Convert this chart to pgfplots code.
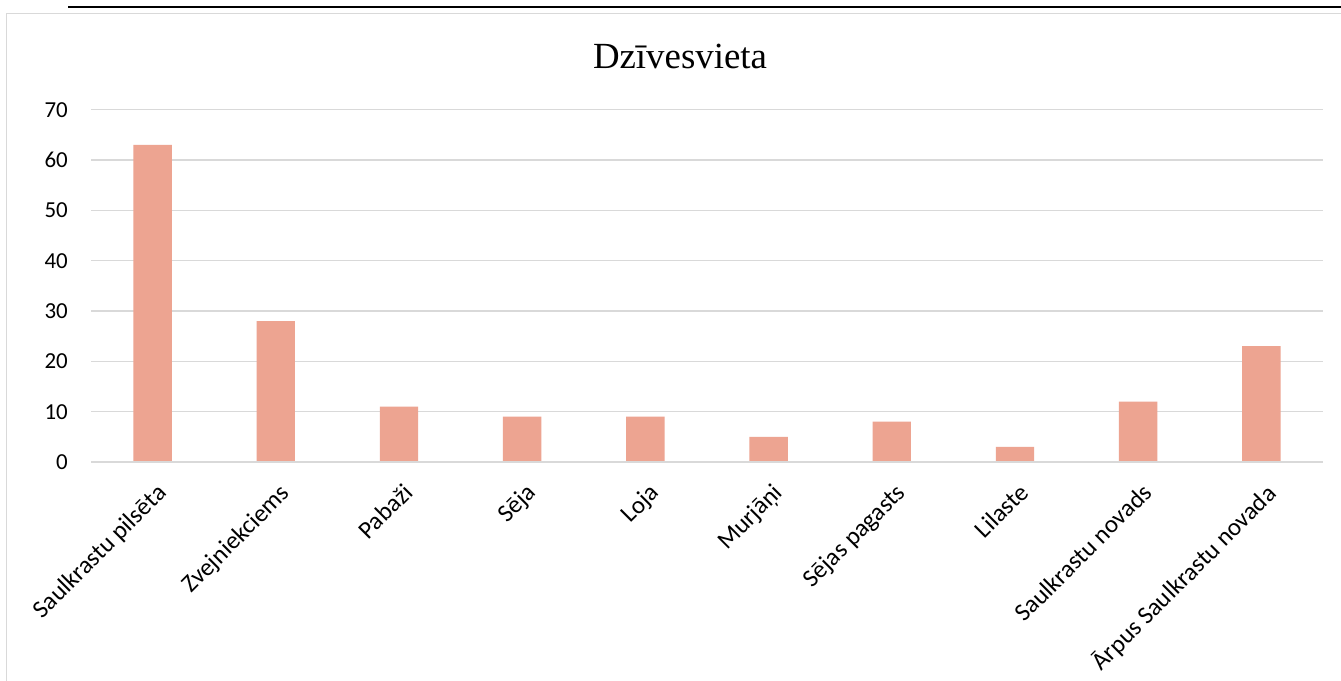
\documentclass[border=0pt]{standalone}
\usepackage{fontspec}
\setmainfont{Carlito}
\newfontfamily\titlefont{Liberation Serif}
\usepackage{pgfplots}
\pgfplotsset{compat=1.18}
\definecolor{barc}{RGB}{237,164,145}
\definecolor{gridc}{RGB}{217,217,217}
\begin{document}
\begin{tikzpicture}[x=1bp,y=1bp]
\useasboundingbox (0,0) rectangle (1341,680);
\fill[white] (0,0) rectangle (1341,680);
\draw[gridc, line width=1bp] (6,-20) -- (6,666) -- (1360,666);
\draw[black, line width=1.6bp] (68,673) -- (1341,673);
\node[font=\titlefont\fontsize{37}{40}\selectfont, anchor=base] at (680,611) {Dzīvesvieta};
\begin{axis}[
  at={(91bp,218bp)}, anchor=south west,
  scale only axis, width=1232bp, height=352.3bp,
  xmin=-0.5, xmax=9.5, ymin=0, ymax=70,
  ytick={0,10,...,70},
  xtick={0,...,9},
  xticklabels={Saulkrastu pilsēta,Zvejniekciems,Pabaži,Sēja,Loja,Murjāņi,Sējas pagasts,Lilaste,Saulkrastu novads,Ārpus Saulkrastu novada},
  major tick length=0pt,
  axis line style={draw=none},
  axis x line*=bottom, axis y line*=left,
  ymajorgrids, grid style={gridc, line width=1.5bp},
  /pgf/number format/assume math mode=true,
  yticklabel style={font=\fontsize{23}{26}\selectfont, text=black, anchor=east, inner sep=0pt, xshift=-23bp},
  xticklabel style={font=\fontsize{25}{28}\selectfont, text=black, rotate=45, anchor=north east, inner sep=0pt, xshift=-12bp, yshift=-16bp},
  clip=false,
]
\addplot[ybar, bar width=38.4bp, fill=barc, draw=none, bar shift=0pt] coordinates {
(0,63) (1,28) (2,11) (3,9) (4,9) (5,5) (6,8) (7,3) (8,12) (9,23)
};
\draw[gridc, line width=2bp] (axis cs:-0.5,0) -- (axis cs:9.5,0);
\end{axis}
\end{tikzpicture}
\end{document}
